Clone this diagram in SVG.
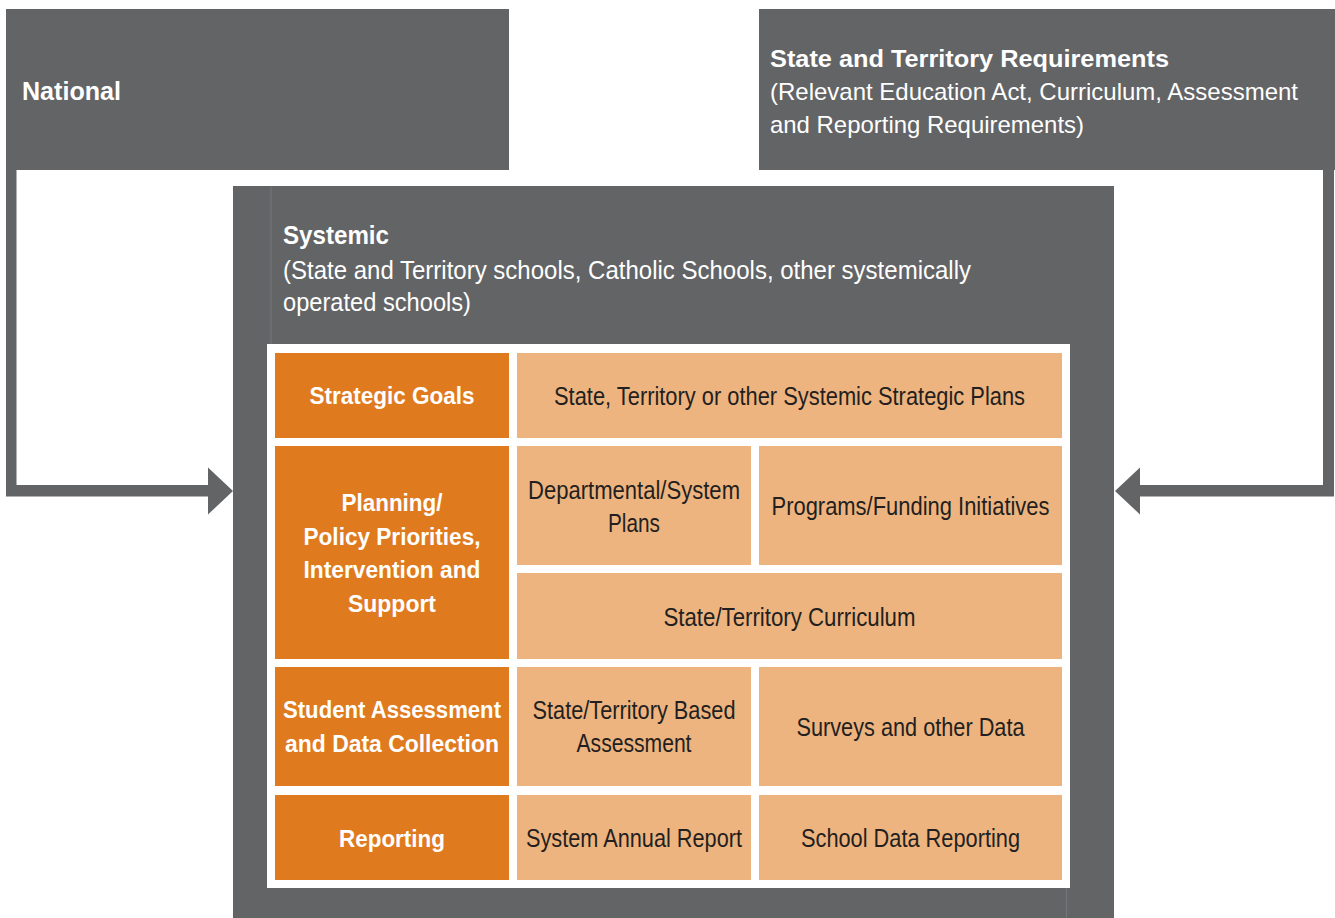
<svg xmlns="http://www.w3.org/2000/svg" width="1335" height="918" viewBox="0 0 1335 918">
<style>
.dark{fill:#636466}
.org{fill:#E07A1E}
.pch{fill:#EEB47F}
.t{font-family:"Liberation Sans",Arial,sans-serif}
.wb{fill:#FFFFFF;font-weight:bold}
.wr{fill:#FFFFFF}
.cb{font-size:23px;fill:#FFFFFF;font-weight:bold;text-anchor:middle}
.cr{font-size:25px;fill:#231F20;text-anchor:middle}
.hb{font-size:26px}
.hr{font-size:26px}
.hs{font-size:24px}
</style>
<rect x="0" y="0" width="1335" height="918" fill="#FFFFFF"/>
<g id="connectors">
<polygon class="dark" points="6,170 16.5,170 16.5,485 208,485 208,467.5 233,491 208,514.5 208,496.5 6,496.5"/>
<polygon class="dark" points="1334,170 1323,170 1323,485 1140,485 1140,467.5 1115,491 1140,514.5 1140,496.5 1334,496.5"/>
</g>
<g id="national">
<rect class="dark" x="6" y="9" width="503" height="161"/>
<text class="t wb hb" x="22" y="100" textLength="99" lengthAdjust="spacingAndGlyphs">National</text>
</g>
<g id="state-territory">
<rect class="dark" x="759" y="9" width="576" height="161"/>
<text class="t wb hs" x="770" y="67" textLength="399" lengthAdjust="spacingAndGlyphs">State and Territory Requirements</text>
<text class="t wr hs" x="770" y="100" textLength="528" lengthAdjust="spacingAndGlyphs">(Relevant Education Act, Curriculum, Assessment</text>
<text class="t wr hs" x="770" y="133" textLength="314" lengthAdjust="spacingAndGlyphs">and Reporting Requirements)</text>
</g>
<g id="systemic">
<rect class="dark" x="233" y="186" width="881" height="732"/>
<line x1="271" y1="187" x2="271" y2="344" stroke="#76777A" stroke-width="1"/>
<line x1="1066.5" y1="888" x2="1066.5" y2="918" stroke="#76777A" stroke-width="1"/>
<text class="t wb hb" x="283" y="244" textLength="106" lengthAdjust="spacingAndGlyphs">Systemic</text>
<text class="t wr hr" x="283" y="279" textLength="688" lengthAdjust="spacingAndGlyphs">(State and Territory schools, Catholic Schools, other systemically</text>
<text class="t wr hr" x="283" y="311" textLength="188" lengthAdjust="spacingAndGlyphs">operated schools)</text>
<rect x="267" y="344" width="803" height="544" fill="#FFFFFF"/>
</g>
<g id="strategic-goals">
<rect class="org" x="275" y="353" width="234" height="85"/>
<text class="t cb" x="392" y="404" textLength="165" lengthAdjust="spacingAndGlyphs">Strategic Goals</text>
</g>
<g id="strategic-plans">
<rect class="pch" x="517" y="353" width="545" height="85"/>
<text class="t cr" x="789.5" y="405" textLength="471" lengthAdjust="spacingAndGlyphs">State, Territory or other Systemic Strategic Plans</text>
</g>
<g id="planning">
<rect class="org" x="275" y="446" width="234" height="213"/>
<text class="t cb" x="392" y="511" textLength="101" lengthAdjust="spacingAndGlyphs">Planning/</text>
<text class="t cb" x="392" y="544.5" textLength="177" lengthAdjust="spacingAndGlyphs">Policy Priorities,</text>
<text class="t cb" x="392" y="578" textLength="177" lengthAdjust="spacingAndGlyphs">Intervention and</text>
<text class="t cb" x="392" y="611.5" textLength="88" lengthAdjust="spacingAndGlyphs">Support</text>
</g>
<g id="departmental-plans">
<rect class="pch" x="517" y="446" width="234" height="119"/>
<text class="t cr" x="634" y="498.5" textLength="212" lengthAdjust="spacingAndGlyphs">Departmental/System</text>
<text class="t cr" x="634" y="532" textLength="52" lengthAdjust="spacingAndGlyphs">Plans</text>
</g>
<g id="programs-funding">
<rect class="pch" x="759" y="446" width="303" height="119"/>
<text class="t cr" x="910.5" y="515" textLength="278" lengthAdjust="spacingAndGlyphs">Programs/Funding Initiatives</text>
</g>
<g id="curriculum">
<rect class="pch" x="517" y="573" width="545" height="86"/>
<text class="t cr" x="789.5" y="626" textLength="252" lengthAdjust="spacingAndGlyphs">State/Territory Curriculum</text>
</g>
<g id="student-assessment">
<rect class="org" x="275" y="667" width="234" height="119"/>
<text class="t cb" x="392" y="718" textLength="218" lengthAdjust="spacingAndGlyphs">Student Assessment</text>
<text class="t cb" x="392" y="752" textLength="214" lengthAdjust="spacingAndGlyphs">and Data Collection</text>
</g>
<g id="state-assessment">
<rect class="pch" x="517" y="667" width="234" height="119"/>
<text class="t cr" x="634" y="718.5" textLength="203" lengthAdjust="spacingAndGlyphs">State/Territory Based</text>
<text class="t cr" x="634" y="752" textLength="115" lengthAdjust="spacingAndGlyphs">Assessment</text>
</g>
<g id="surveys">
<rect class="pch" x="759" y="667" width="303" height="119"/>
<text class="t cr" x="910.5" y="736" textLength="228" lengthAdjust="spacingAndGlyphs">Surveys and other Data</text>
</g>
<g id="reporting">
<rect class="org" x="275" y="795" width="234" height="85"/>
<text class="t cb" x="392" y="847" textLength="106" lengthAdjust="spacingAndGlyphs">Reporting</text>
</g>
<g id="annual-report">
<rect class="pch" x="517" y="795" width="234" height="85"/>
<text class="t cr" x="634" y="847" textLength="216" lengthAdjust="spacingAndGlyphs">System Annual Report</text>
</g>
<g id="school-data">
<rect class="pch" x="759" y="795" width="303" height="85"/>
<text class="t cr" x="910.5" y="847" textLength="219" lengthAdjust="spacingAndGlyphs">School Data Reporting</text>
</g>
</svg>
